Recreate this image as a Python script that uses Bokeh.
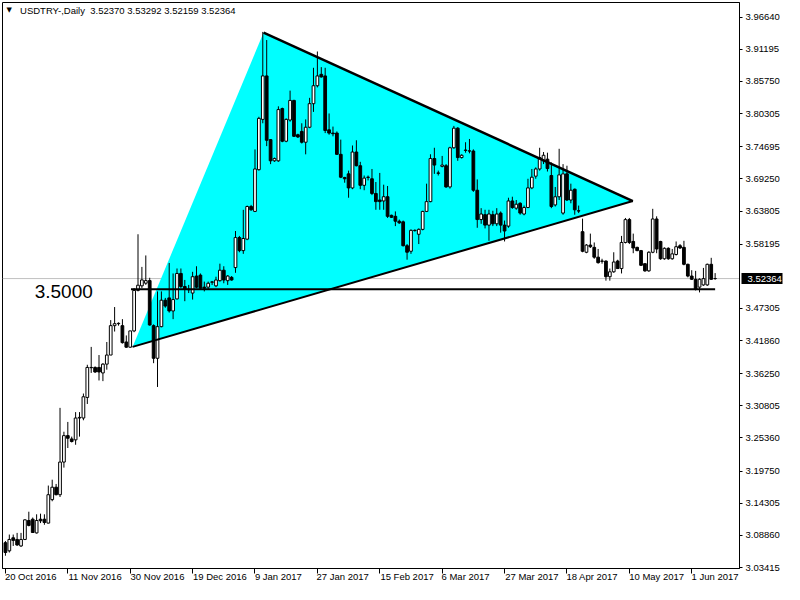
from bokeh.plotting import figure
from bokeh.models import FixedTicker, Span, Label, Range1d, PrintfTickFormatter, LinearAxis
from bokeh.embed import file_html
from bokeh.resources import INLINE

# ---- data ----
opens = [3.0762, 3.0624, 3.0845, 3.0817, 3.0707, 3.0817, 3.1138, 3.1160, 3.0928, 3.1160,
         3.1160, 3.1094, 3.1492, 3.1702, 3.1575, 3.2128, 3.2576, 3.2520, 3.2504, 3.2874,
         3.2874, 3.3223, 3.3731, 3.3731, 3.3731, 3.3638, 3.3787, 3.3941, 3.4439, 3.4472,
         3.4439, 3.4162, 3.4074, 3.4350, 3.5036, 3.5113, 3.5158, 3.5202, 3.4439, 3.3886,
         3.4422, 3.4870, 3.4909, 3.4688, 3.4892, 3.5323, 3.5102, 3.5058, 3.4991, 3.5279,
         3.5295, 3.5091, 3.5091, 3.5174, 3.5113, 3.5201, 3.5378, 3.5201, 3.5257, 3.5423,
         3.5931, 3.5710, 3.5904, 3.6457, 3.6374, 3.7081, 3.7933, 3.8669, 3.7590, 3.7231,
         3.7231, 3.8116, 3.7563, 3.7922, 3.8254, 3.7673, 3.7729, 3.7546, 3.7800, 3.8199,
         3.8503, 3.8696, 3.8669, 3.7756, 3.7701, 3.7701, 3.7341, 3.6949, 3.7010, 3.6772,
         3.7380, 3.7148, 3.6816, 3.6949, 3.6927, 3.6678, 3.6567, 3.6551, 3.6623, 3.6308,
         3.6291, 3.6208, 3.6197, 3.5793, 3.5699, 3.6053, 3.5987, 3.6070, 3.6374, 3.6540,
         3.7270, 3.7026, 3.7137, 3.7148, 3.6789, 3.7452, 3.7784, 3.7286, 3.7413, 3.7397,
         3.7397, 3.6733, 3.6236, 3.6319, 3.6142, 3.6319, 3.6164, 3.6346, 3.6142, 3.6125,
         3.6551, 3.6429, 3.6512, 3.6330, 3.6440, 3.6772, 3.6971, 3.7093, 3.7231, 3.7259,
         3.6982, 3.6484, 3.6622, 3.6346, 3.7010, 3.6567, 3.6750, 3.6385, 3.6031, 3.5682,
         3.5804, 3.5765, 3.5599, 3.5533, 3.5533, 3.5268, 3.5351, 3.5533, 3.5406, 3.5848,
         3.6235, 3.5865, 3.5765, 3.5710, 3.5489, 3.5367, 3.5682, 3.6246, 3.5865, 3.5572,
         3.5749, 3.5572, 3.5644, 3.5793, 3.5765, 3.5478, 3.5279, 3.5224, 3.5091, 3.5129,
         3.5129, 3.5478, 3.52370]
highs = [3.0790, 3.0900, 3.0900, 3.0928, 3.0928, 3.1160, 3.1287, 3.1188, 3.1243, 3.1254,
         3.1243, 3.1730, 3.1829, 3.1757, 3.3046, 3.2642, 3.2808, 3.2559, 3.2974, 3.2974,
         3.3289, 3.3776, 3.4079, 3.3748, 3.3941, 3.3803, 3.4162, 3.4533, 3.4754, 3.4494,
         3.4549, 3.4273, 3.4350, 3.5075, 3.5987, 3.5434, 3.5628, 3.5250, 3.4460, 3.5019,
         3.5019, 3.4909, 3.5500, 3.5323, 3.5407, 3.5407, 3.5213, 3.5129, 3.5351, 3.5445,
         3.5323, 3.5185, 3.5185, 3.5196, 3.5268, 3.5489, 3.5445, 3.5295, 3.5279, 3.6042,
         3.5959, 3.6401, 3.6473, 3.6484, 3.7424, 3.7977, 3.9415, 3.9277, 3.7600, 3.7286,
         3.8154, 3.8132, 3.7950, 3.8420, 3.8265, 3.7690, 3.7867, 3.7933, 3.8298, 3.8807,
         3.9083, 3.8818, 3.8807, 3.8033, 3.7811, 3.7729, 3.7590, 3.6960, 3.7065, 3.7491,
         3.7579, 3.7214, 3.6982, 3.6982, 3.7093, 3.6872, 3.7026, 3.6827, 3.6805, 3.6319,
         3.6374, 3.6236, 3.6219, 3.5821, 3.6070, 3.6070, 3.6086, 3.6385, 3.6844, 3.7342,
         3.7452, 3.7065, 3.7314, 3.7176, 3.7469, 3.7823, 3.7801, 3.7342, 3.7546, 3.7601,
         3.7425, 3.6916, 3.6429, 3.6402, 3.6402, 3.6385, 3.6429, 3.6374, 3.6219, 3.6606,
         3.6623, 3.6567, 3.6529, 3.6473, 3.6927, 3.7093, 3.7120, 3.7452, 3.7380, 3.7369,
         3.7203, 3.6788, 3.7435, 3.7175, 3.7148, 3.6844, 3.6761, 3.6473, 3.6252, 3.5821,
         3.5998, 3.5848, 3.5738, 3.5572, 3.5544, 3.5406, 3.5682, 3.5555, 3.5959, 3.6263,
         3.6263, 3.5998, 3.5776, 3.5721, 3.5495, 3.5699, 3.6418, 3.6291, 3.5876, 3.5765,
         3.5765, 3.5738, 3.5865, 3.5821, 3.5876, 3.5489, 3.5378, 3.5367, 3.5240, 3.5417,
         3.5489, 3.5588, 3.53292]
lows = [3.0541, 3.0596, 3.0707, 3.0707, 3.0690, 3.0806, 3.1039, 3.0928, 3.0917, 3.1094,
        3.1066, 3.1090, 3.1464, 3.1564, 3.1536, 3.2034, 3.2366, 3.2460, 3.2421, 3.2559,
        3.2836, 3.3112, 3.3638, 3.3638, 3.3510, 3.3499, 3.3693, 3.3941, 3.4339, 3.4439,
        3.4135, 3.4063, 3.4063, 3.4328, 3.5019, 3.5075, 3.5130, 3.4439, 3.3803, 3.3400,
        3.4411, 3.4743, 3.4660, 3.4549, 3.4881, 3.5075, 3.4853, 3.4991, 3.4881, 3.5074,
        3.5058, 3.5019, 3.5058, 3.5129, 3.5091, 3.5185, 3.5157, 3.5129, 3.5201, 3.5334,
        3.5682, 3.5655, 3.5887, 3.6385, 3.6363, 3.7065, 3.7867, 3.7480, 3.7175, 3.7214,
        3.7214, 3.7546, 3.7546, 3.7894, 3.7635, 3.7618, 3.7524, 3.7341, 3.7784, 3.8060,
        3.8475, 3.8641, 3.7701, 3.7673, 3.7646, 3.7330, 3.6938, 3.6860, 3.6606, 3.6750,
        3.7137, 3.6750, 3.6733, 3.6899, 3.6650, 3.6402, 3.6402, 3.6402, 3.6263, 3.6263,
        3.6125, 3.6164, 3.5780, 3.5556, 3.5655, 3.6031, 3.5821, 3.6053, 3.6363, 3.6529,
        3.7010, 3.6982, 3.7120, 3.6772, 3.6761, 3.7436, 3.7231, 3.7270, 3.7369, 3.7358,
        3.6706, 3.6097, 3.6164, 3.6086, 3.5876, 3.6125, 3.6125, 3.6014, 3.5865, 3.6097,
        3.6418, 3.6402, 3.6319, 3.6308, 3.6429, 3.6750, 3.6927, 3.7065, 3.7176, 3.7050,
        3.6429, 3.6457, 3.6567, 3.6318, 3.6551, 3.6512, 3.6318, 3.6346, 3.5682, 3.5666,
        3.5754, 3.5572, 3.5489, 3.5489, 3.5201, 3.5201, 3.5334, 3.5400, 3.5323, 3.5832,
        3.5821, 3.5666, 3.5699, 3.5450, 3.5351, 3.5351, 3.5666, 3.5666, 3.5555, 3.5555,
        3.5555, 3.5555, 3.5627, 3.5738, 3.5461, 3.5257, 3.5213, 3.5035, 3.5002, 3.5113,
        3.5113, 3.5213, 3.52159]
closes = [3.0596, 3.0817, 3.0801, 3.0724, 3.0817, 3.1149, 3.1055, 3.0935, 3.1138, 3.1133,
          3.1105, 3.1575, 3.1702, 3.1575, 3.2128, 3.2576, 3.2531, 3.2476, 3.2874, 3.2885,
          3.3234, 3.3731, 3.3726, 3.3654, 3.3654, 3.3787, 3.3941, 3.4439, 3.4472, 3.4478,
          3.4151, 3.4074, 3.4350, 3.5036, 3.5124, 3.5213, 3.5202, 3.4450, 3.3886, 3.4422,
          3.4870, 3.4771, 3.4688, 3.4881, 3.5323, 3.5102, 3.5058, 3.5047, 3.5268, 3.5091,
          3.5074, 3.5074, 3.5157, 3.5180, 3.5212, 3.5378, 3.5212, 3.5279, 3.5212, 3.5931,
          3.5710, 3.5915, 3.6457, 3.6401, 3.7093, 3.7950, 3.8669, 3.7579, 3.7231, 3.7269,
          3.8099, 3.7563, 3.7933, 3.8254, 3.7646, 3.7635, 3.7546, 3.7800, 3.8199, 3.8503,
          3.8669, 3.8652, 3.7745, 3.7701, 3.7690, 3.7341, 3.6954, 3.6927, 3.6772, 3.7380,
          3.7148, 3.6816, 3.6938, 3.6954, 3.6678, 3.6540, 3.6540, 3.6623, 3.6291, 3.6274,
          3.6208, 3.6180, 3.5793, 3.5683, 3.6053, 3.6050, 3.6070, 3.6374, 3.6540, 3.7270,
          3.7159, 3.7020, 3.7159, 3.6789, 3.7452, 3.7784, 3.7286, 3.7325, 3.7408, 3.7400,
          3.6733, 3.6236, 3.6330, 3.6142, 3.6330, 3.6164, 3.6330, 3.6142, 3.6042, 3.6551,
          3.6440, 3.6496, 3.6346, 3.6440, 3.6772, 3.6954, 3.7093, 3.7286, 3.7325, 3.7100,
          3.6457, 3.6622, 3.6993, 3.7010, 3.6567, 3.6733, 3.6401, 3.6380, 3.5699, 3.5804,
          3.5776, 3.5599, 3.5506, 3.5530, 3.5268, 3.5351, 3.5517, 3.5406, 3.5848, 3.6235,
          3.5848, 3.5754, 3.5710, 3.5461, 3.5367, 3.5682, 3.6246, 3.5738, 3.5572, 3.5749,
          3.5572, 3.5655, 3.5776, 3.5754, 3.5478, 3.5279, 3.5224, 3.5058, 3.5224, 3.5235,
          3.5478, 3.5224, 3.52364]

date_ticks = [0, 16, 32, 48, 64, 80, 96, 112, 128, 144, 160, 176]
date_labels = ["20 Oct 2016", "11 Nov 2016", "30 Nov 2016", "19 Dec 2016", "9 Jan 2017",
               "27 Jan 2017", "15 Feb 2017", "6 Mar 2017", "27 Mar 2017", "18 Apr 2017",
               "10 May 2017", "1 Jun 2017"]
price_ticks = [3.96640, 3.91195, 3.85750, 3.80305, 3.74695, 3.69250, 3.63805, 3.58195,
               3.47305, 3.41860, 3.36250, 3.30805, 3.25360, 3.19750, 3.14305, 3.08860, 3.03415]
last_price = 3.52364
level_price = 3.5055
level_text = "3.5000"
tri_x = [32.6, 66.2, 160.9]
tri_y = [3.4079, 3.9404, 3.6550]
header_text = "USDTRY-,Daily\u00a0\u00a03.52370 3.53292 3.52159 3.52364"

FONT = "Liberation Sans"
FS = "9.5px"

# half label widths (in bar units) so that date labels start at their tick, as in MT4
label_shift = [6.5, 7.0, 7.0, 7.0, 6.0, 6.5, 7.0, 6.0, 7.0, 6.5, 7.0, 6.0]

idx = list(range(len(opens)))
tops = [max(o, c) for o, c in zip(opens, closes)]
bots = [min(o, c) for o, c in zip(opens, closes)]
fills = ["white" if c > o else "black" for o, c in zip(opens, closes)]

p = figure(width=784, height=584, output_backend="svg", toolbar_location=None,
           x_range=Range1d(-0.75, 188.25), y_range=Range1d(3.0325, 3.9913),
           y_axis_location="right", min_border_left=2, min_border_top=2,
           min_border_right=2, min_border_bottom=2,
           background_fill_color="white", border_fill_color="white")
p.grid.visible = False
p.outline_line_color = "black"
p.outline_line_width = 1

# right price axis
ya = p.yaxis[0]
ya.ticker = FixedTicker(ticks=price_ticks)
ya.formatter = PrintfTickFormatter(format="%.5f")
ya.major_tick_in = 0
ya.major_tick_out = 3
ya.minor_tick_line_color = None
ya.major_label_standoff = 3
ya.major_label_text_font = FONT
ya.major_label_text_font_size = FS
ya.major_label_text_color = "black"
ya.axis_line_color = "black"

# current price marker on the price scale (black box, white text)
yb = LinearAxis(ticker=FixedTicker(ticks=[last_price]),
                formatter=PrintfTickFormatter(format="%.5f"),
                axis_line_color=None, major_tick_in=41, major_tick_out=0,
                major_tick_line_width=11, major_tick_line_color="black",
                minor_tick_line_color=None, major_label_standoff=-35,
                major_label_text_color="white", major_label_text_font=FONT,
                major_label_text_font_size=FS)
p.add_layout(yb, "right")

# bottom date axis: tick marks only
xa = p.xaxis[0]
xa.ticker = FixedTicker(ticks=date_ticks)
xa.major_label_overrides = {t: "" for t in date_ticks}
xa.major_label_text_font_size = "0px"
xa.major_label_standoff = 0
xa.major_tick_in = 0
xa.major_tick_out = 5
xa.minor_tick_line_color = None
xa.axis_line_color = "black"

# bottom date labels, starting at their tick
lab_pos = [t + s for t, s in zip(date_ticks, label_shift)]
xb = LinearAxis(ticker=FixedTicker(ticks=lab_pos),
                major_label_overrides={pp: l for pp, l in zip(lab_pos, date_labels)},
                axis_line_color=None, major_tick_line_color=None,
                major_tick_in=0, major_tick_out=0, minor_tick_line_color=None,
                major_label_standoff=-3, major_label_text_font=FONT,
                major_label_text_font_size=FS, major_label_text_color="black")
p.add_layout(xb, "below")

# current price line (behind)
p.add_layout(Span(location=last_price, dimension="width", line_color="#c0c0c0",
                  line_width=1, level="underlay"))

# cyan triangle
p.patch(tri_x, tri_y, fill_color="#00ffff", line_color=None)

# candles
p.segment(idx, highs, idx, lows, line_color="black", line_width=1)
p.vbar(x=idx, width=0.7, top=tops, bottom=bots, fill_color=fills,
       line_color="black", line_width=1)

# trend lines
p.line([tri_x[1], tri_x[2]], [tri_y[1], tri_y[2]], line_color="black", line_width=2.5)
p.line([tri_x[0], tri_x[2]], [tri_y[0], tri_y[2]], line_color="black", line_width=2)
p.line([32.2, len(opens) - 1], [level_price, level_price], line_color="black", line_width=2)

p.add_layout(Label(x=7.5, y=3.5019, text=level_text, text_font=FONT,
                   text_font_size="19px", text_color="black", text_baseline="alphabetic"))

# header
p.add_layout(Label(x=0.3, y=3.978, text="\u25bc", text_font="DejaVu Sans",
                   text_font_size="7px", text_color="black", text_baseline="middle"))
p.add_layout(Label(x=3.75, y=3.978, text=header_text, text_font=FONT,
                   text_font_size=FS, text_color="black", text_baseline="middle"))

open("out.html", "w").write(file_html(p, INLINE))
